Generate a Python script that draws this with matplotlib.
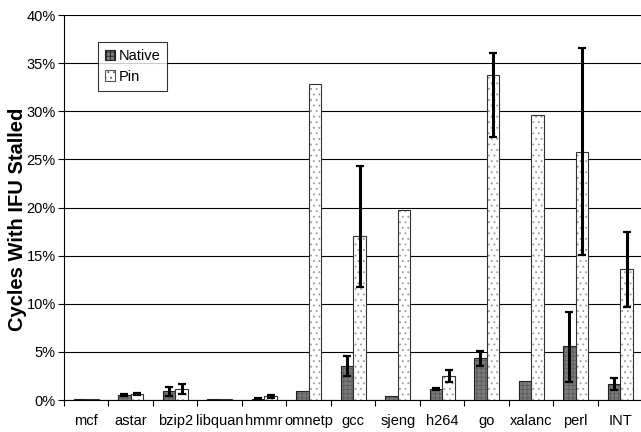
import numpy as np
import matplotlib.pyplot as plt
from matplotlib.patches import Patch

plt.rcParams['font.family'] = ['Liberation Sans', 'DejaVu Sans']
plt.rcParams['hatch.linewidth'] = 0.6

benchmarks = ['mcf', 'astar', 'bzip2', 'libquan', 'hmmr', 'omnetp', 'gcc',
              'sjeng', 'h264', 'go', 'xalanc', 'perl', 'INT']
native = [0.1, 0.5, 0.9, 0.1, 0.15, 0.95, 3.55, 0.45, 1.15, 4.4, 1.95, 5.65, 1.65]
native_err_lo = [0, 0.1, 0.5, 0, 0.05, 0, 1.1, 0, 0.1, 0.9, 0, 3.8, 0.6]
native_err_hi = [0, 0.1, 0.5, 0, 0.05, 0, 1.0, 0, 0.1, 0.7, 0, 3.5, 0.6]
pin = [0.1, 0.6, 1.1, 0.1, 0.4, 32.8, 17.0, 19.8, 2.5, 33.8, 29.6, 25.8, 13.6]
pin_err_lo = [0, 0.1, 0.5, 0, 0.15, 0, 5.3, 0, 0.6, 6.5, 0, 10.7, 3.9]
pin_err_hi = [0, 0.1, 0.55, 0, 0.15, 0, 7.3, 0, 0.65, 2.3, 0, 10.8, 3.9]

fig = plt.figure(figsize=(6.41, 4.32), dpi=100)
ax = fig.add_axes([0.0998, 0.074, 0.906, 0.891])

x = np.arange(len(benchmarks))
w = 0.28
off = 0.145

# native bars
ax.bar(x - off, native, w, color='#7c7c7c', edgecolor='#5c5c5c', hatch='++++',
       lw=0, zorder=3)
ax.bar(x - off, native, w, fill=False, edgecolor='#222222', lw=0.8, zorder=4)
# pin bars
ax.bar(x + off, pin, w, color='white', edgecolor='#9a9a9a', hatch='...',
       lw=0, zorder=3)
ax.bar(x + off, pin, w, fill=False, edgecolor='#333333', lw=0.8, zorder=4)

# error bars only where there is a spread
def draw_err(xs, vals, lo, hi):
    idx = [i for i in range(len(vals)) if lo[i] > 0 or hi[i] > 0]
    ax.errorbar(xs[idx], np.array(vals)[idx],
                yerr=[np.array(lo)[idx], np.array(hi)[idx]],
                fmt='none', ecolor='black', elinewidth=2.2,
                capsize=2.6, capthick=1.6, zorder=5)

draw_err(x - off, native, native_err_lo, native_err_hi)
draw_err(x + off, pin, pin_err_lo, pin_err_hi)

ax.set_ylim(0, 40)
ax.set_xlim(-0.5, len(benchmarks) - 0.45)
ax.set_yticks(np.arange(0, 41, 5))
ax.set_yticklabels([f'{v}%' for v in range(0, 41, 5)], fontsize=10.5)
ax.yaxis.grid(True, color='black', lw=0.8, zorder=0)
ax.set_axisbelow(True)

ax.set_xticks(x)
ax.set_xticklabels(benchmarks, fontsize=10.5)
ax.tick_params(axis='x', which='major', length=0, pad=10)
ax.set_xticks(np.arange(-0.5, len(benchmarks), 1), minor=True)
ax.tick_params(axis='x', which='minor', length=4, width=0.8, direction='out')
ax.tick_params(axis='y', length=4, width=0.8, direction='out', pad=2)

for s in ['top', 'right']:
    ax.spines[s].set_visible(False)
ax.spines['left'].set_linewidth(0.8)
ax.spines['bottom'].set_linewidth(0.8)

ax.set_ylabel('Cycles With IFU Stalled', fontsize=14.5, fontweight='bold')
ax.yaxis.set_label_coords(-0.064, 0.47)

handles = [Patch(facecolor='#7c7c7c', edgecolor='#222222', hatch='++++', lw=0.8),
           Patch(facecolor='white', edgecolor='#555555', hatch='...', lw=0.8)]
leg = ax.legend(handles, ['Native', 'Pin'], loc='upper left',
                bbox_to_anchor=(0.046, 0.95), fontsize=10.5, frameon=True,
                fancybox=False, edgecolor='black', handlelength=0.7,
                handleheight=0.7, handletextpad=0.2, borderpad=0.5,
                labelspacing=0.45)
leg.get_frame().set_linewidth(0.8)
leg.set_zorder(6)

fig.savefig('out.png', dpi=100)
